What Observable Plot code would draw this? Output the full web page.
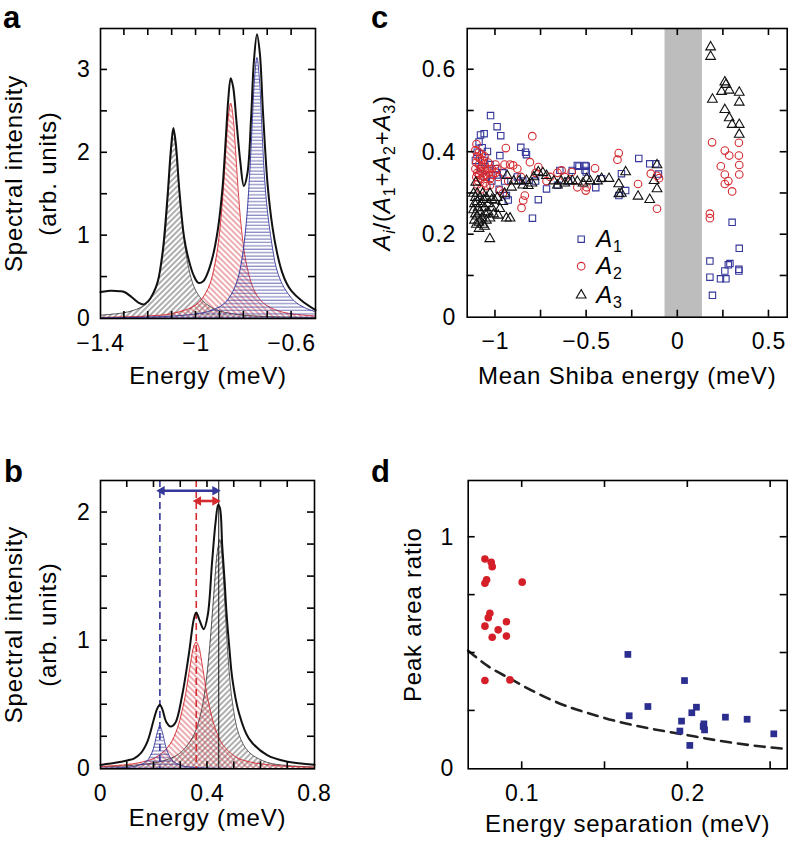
<!DOCTYPE html>
<html><head><meta charset="utf-8">
<script src="https://cdn.jsdelivr.net/npm/d3@7"></script>
<script src="https://cdn.jsdelivr.net/npm/@observablehq/plot@0.6"></script>
<style>
body{margin:0;background:#fff;}
#root{position:relative;width:788px;height:844px;font-family:"Liberation Sans",Arial,sans-serif;overflow:hidden;}
#root svg text{letter-spacing:0.8px;}
.panel{position:absolute;}
.lab{position:absolute;font-weight:bold;font-size:31px;line-height:1;color:#000;}
</style></head><body>
<svg width="0" height="0" style="position:absolute"><defs>
<pattern id="hBlack" patternUnits="userSpaceOnUse" width="4" height="4" patternTransform="rotate(45)"><line x1="1" y1="0" x2="1" y2="4" stroke="#333" stroke-width="0.8"/></pattern>
<pattern id="hRed" patternUnits="userSpaceOnUse" width="4" height="4" patternTransform="rotate(-45)"><line x1="1" y1="0" x2="1" y2="4" stroke="#d0303a" stroke-width="0.8"/></pattern>
<pattern id="hBlue" patternUnits="userSpaceOnUse" width="4" height="3.4"><line x1="0" y1="1" x2="4" y2="1" stroke="#3a3c9c" stroke-width="0.8"/></pattern>
</defs></svg>
<div id="root">
  <div class="lab" style="left:3px;top:2px">a</div>
  <div class="lab" style="left:371px;top:2px">c</div>
  <div class="lab" style="left:4px;top:456px">b</div>
  <div class="lab" style="left:371px;top:456px">d</div>
</div>
<script>
// ---------- DATA ----------
// Panel a: total spectrum and three fitted components
const aTotalX = [-1.4,-1.36,-1.32,-1.3,-1.27,-1.24,-1.22,-1.2,-1.18,-1.16,-1.14,-1.12,-1.105,-1.095,-1.085,-1.07,-1.05,-1.03,-1.01,-0.99,-0.97,-0.95,-0.93,-0.91,-0.89,-0.875,-0.865,-0.855,-0.845,-0.83,-0.815,-0.8,-0.785,-0.77,-0.758,-0.745,-0.733,-0.72,-0.7,-0.68,-0.66,-0.64,-0.62,-0.6,-0.56,-0.5];
const aTotalY = [0.32,0.335,0.33,0.32,0.26,0.19,0.17,0.21,0.3,0.45,0.8,1.45,2.05,2.3,2.12,1.55,0.98,0.7,0.52,0.43,0.45,0.56,0.75,1.05,1.55,2.2,2.65,2.9,2.8,2.35,1.9,1.6,1.75,2.4,3.1,3.43,3.2,2.5,1.6,1.1,0.78,0.56,0.42,0.33,0.22,0.1];
const aBlackX = [-1.4,-1.3,-1.25,-1.22,-1.2,-1.17,-1.15,-1.13,-1.115,-1.105,-1.095,-1.085,-1.075,-1.06,-1.04,-1.02,-1.0,-0.97,-0.95,-0.9,-0.8,-0.7,-0.6,-0.5];
const aBlackY = [0.04,0.07,0.11,0.15,0.2,0.35,0.58,1.0,1.6,1.98,2.25,2.05,1.7,1.2,0.75,0.48,0.33,0.21,0.16,0.09,0.04,0.023,0.015,0.01];
const aRedX = [-1.4,-1.2,-1.1,-1.0,-0.95,-0.92,-0.9,-0.885,-0.875,-0.865,-0.855,-0.845,-0.835,-0.825,-0.81,-0.79,-0.76,-0.73,-0.7,-0.65,-0.6,-0.5];
const aRedY = [0.013,0.031,0.06,0.165,0.36,0.67,1.08,1.6,2.04,2.43,2.6,2.43,2.04,1.6,1.08,0.67,0.36,0.22,0.15,0.087,0.056,0.03];
const aBlueX = [-1.4,-1.2,-1.1,-1.0,-0.945,-0.905,-0.875,-0.845,-0.825,-0.81,-0.795,-0.785,-0.775,-0.765,-0.755,-0.745,-0.735,-0.725,-0.715,-0.705,-0.695,-0.68,-0.665,-0.645,-0.615,-0.585,-0.545,-0.5];
const aBlueY = [0.008,0.017,0.029,0.055,0.088,0.136,0.2,0.33,0.48,0.68,1.0,1.32,1.77,2.34,2.9,3.15,2.9,2.34,1.77,1.4,1.15,0.85,0.62,0.45,0.3,0.2,0.13,0.08];

// Panel b
const bTotalX = [0,0.05,0.1,0.125,0.15,0.175,0.2,0.212,0.222,0.232,0.245,0.262,0.28,0.305,0.33,0.349,0.358,0.37,0.386,0.401,0.417,0.43,0.44,0.447,0.455,0.4635,0.471,0.481,0.493,0.517,0.555,0.623,0.7,0.8];
const bTotalY = [0.03,0.045,0.065,0.08,0.12,0.21,0.39,0.47,0.5,0.46,0.37,0.33,0.36,0.57,0.89,1.17,1.22,1.16,1.09,1.2,1.61,1.92,2.06,2.03,1.74,1.48,1.22,0.96,0.7,0.44,0.236,0.106,0.055,0.032];
const bBlueX = [0,0.1,0.142,0.172,0.192,0.202,0.212,0.222,0.232,0.242,0.252,0.272,0.302,0.35,0.45,0.8];
const bBlueY = [0.004,0.012,0.026,0.058,0.124,0.19,0.28,0.335,0.28,0.19,0.124,0.058,0.026,0.011,0.004,0.001];
const bRedX = [0,0.1,0.158,0.208,0.258,0.288,0.308,0.318,0.328,0.338,0.348,0.358,0.368,0.378,0.388,0.398,0.408,0.428,0.458,0.508,0.558,0.658,0.8];
const bRedY = [0.018,0.033,0.054,0.09,0.185,0.32,0.48,0.58,0.71,0.84,0.95,0.99,0.95,0.84,0.71,0.58,0.48,0.32,0.185,0.09,0.054,0.025,0.012];
const bBlackX = [0,0.1,0.2,0.246,0.296,0.346,0.376,0.396,0.406,0.416,0.426,0.436,0.446,0.456,0.4635,0.471,0.481,0.493,0.517,0.555,0.623,0.7,0.8];
const bBlackY = [0.014,0.024,0.046,0.069,0.12,0.25,0.44,0.7,0.9,1.15,1.43,1.68,1.79,1.61,1.34,1.06,0.76,0.52,0.27,0.13,0.05,0.025,0.013];
const bPeakBlue = 0.222, bPeakRed = 0.358, bPeakBlack = 0.442;
const bArrowStart = [0.222, 0.358];
const bArrowEnd = [0.436, 0.436];
const bArrowY = [2.17, 2.09];

// Panel c: A1 (squares), A2 (circles), A3 (triangles)
const cA1 = [[-1.027,0.489],[-0.991,0.462],[-0.971,0.44],[-1.082,0.442],[-1.062,0.445],[-1.073,0.411],[-1.044,0.402],[-0.976,0.392],[-1.09,0.425],[-1.1,0.4],[-1.06,0.38],[-1.03,0.37],[-1.0,0.36],[-0.99,0.345],[-1.05,0.34],[-1.02,0.33],[-0.96,0.35],[-0.95,0.33],[-1.08,0.36],[-1.11,0.38],[-0.98,0.31],[-0.93,0.284],[-0.94,0.295],
  [-0.861,0.412],[-0.835,0.4],[-0.83,0.394],[-0.72,0.311],[-0.765,0.285],[-0.797,0.24],[-0.647,0.356],[-0.579,0.356],[-0.542,0.366],[-0.502,0.366],[-0.502,0.352],[-0.45,0.314],[-0.418,0.336],[-0.551,0.368],[-0.509,0.368],[-0.509,0.356],[-0.309,0.348],[-0.286,0.307],[-0.323,0.295],[-0.214,0.385],[-0.154,0.372],[-0.121,0.372],[-0.106,0.347],[-0.88,0.34],[-0.85,0.33],[-0.78,0.33],[-0.6,0.33],[-0.66,0.32],
  [0.298,0.23],[0.337,0.167],[0.176,0.136],[0.277,0.127],[0.258,0.112],[0.335,0.116],[0.335,0.112],[0.176,0.097],[0.234,0.093],[0.264,0.093],[0.19,0.053],[0.286,0.13]];
const cA2 = [[-1.104,0.42],[-1.11,0.405],[-1.1,0.39],[-1.105,0.375],[-1.11,0.36],[-1.1,0.35],[-1.105,0.34],[-1.095,0.33],[-1.09,0.4],[-1.085,0.385],[-1.09,0.37],[-1.085,0.355],[-1.09,0.345],[-1.08,0.335],[-1.075,0.395],[-1.07,0.38],[-1.075,0.365],[-1.07,0.35],[-1.065,0.34],[-1.06,0.37],[-1.055,0.355],[-1.06,0.39],[-1.05,0.345],[-1.045,0.36],[-1.04,0.375],[-1.035,0.35],[-1.03,0.335],[-1.02,0.36],[-1.015,0.345],[-1.0,0.37],[-1.0,0.35],[-0.99,0.36],[-0.985,0.34],[-1.06,0.325],[-1.05,0.318],[-1.03,0.32],[-1.1,0.322],[-1.08,0.31],
  [-0.943,0.41],[-0.798,0.439],[-0.903,0.368],[-0.92,0.37],[-0.811,0.376],[-0.765,0.364],[-0.78,0.35],[-0.839,0.295],[-0.848,0.283],[-0.857,0.265],[-0.976,0.307],[-0.96,0.3],[-0.637,0.356],[-0.582,0.352],[-0.324,0.398],[-0.331,0.382],[-0.454,0.361],[-0.218,0.323],[-0.148,0.348],[-0.114,0.343],[-0.103,0.337],[-0.114,0.263],[-0.505,0.307],[-0.551,0.315],[-0.7,0.34],[-0.72,0.33],[-0.66,0.35],[-0.62,0.34],[-0.5,0.315],[-0.86,0.34],[-0.88,0.36],[-0.95,0.37],[-0.93,0.33],
  [0.188,0.424],[0.335,0.423],[0.258,0.404],[0.282,0.392],[0.335,0.392],[0.337,0.369],[0.236,0.366],[0.258,0.346],[0.337,0.346],[0.277,0.33],[0.258,0.323],[0.298,0.305],[0.176,0.251],[0.176,0.24]];
const cA3 = [[-1.12,0.3],[-1.11,0.29],[-1.115,0.275],[-1.12,0.26],[-1.11,0.25],[-1.115,0.235],[-1.105,0.225],[-1.1,0.3],[-1.1,0.28],[-1.095,0.265],[-1.1,0.245],[-1.09,0.23],[-1.085,0.29],[-1.08,0.275],[-1.085,0.255],[-1.075,0.24],[-1.07,0.225],[-1.07,0.3],[-1.065,0.285],[-1.06,0.265],[-1.055,0.25],[-1.05,0.235],[-1.05,0.29],[-1.04,0.275],[-1.04,0.255],[-1.03,0.24],[-1.03,0.3],[-1.02,0.285],[-1.02,0.265],[-1.01,0.25],[-1.005,0.283],[-0.99,0.29],[-0.985,0.247],[-0.976,0.263],[-1.031,0.19],[-1.108,0.327],[-1.09,0.215],[-1.06,0.22],
  [-0.936,0.343],[-0.83,0.331],[-0.765,0.352],[-0.72,0.343],[-0.912,0.315],[-0.9,0.33],[-0.82,0.319],[-0.85,0.32],[-0.87,0.33],[-0.8,0.325],[-0.79,0.34],[-0.74,0.35],[-0.95,0.3],[-0.96,0.28],[-0.94,0.24],[-0.92,0.24],[-0.68,0.33],[-0.66,0.32],[-0.64,0.33],[-0.62,0.325],[-0.6,0.33],[-0.579,0.331],[-0.551,0.329],[-0.5,0.336],[-0.52,0.325],[-0.48,0.33],[-0.418,0.336],[-0.377,0.336],[-0.44,0.33],[-0.324,0.323],[-0.323,0.299],[-0.286,0.352],[-0.218,0.293],[-0.154,0.285],[-0.13,0.331],[-0.114,0.311],[-0.114,0.369],[-0.31,0.3],
  [0.18,0.655],[0.18,0.632],[0.258,0.57],[0.264,0.564],[0.24,0.547],[0.282,0.55],[0.337,0.545],[0.19,0.528],[0.337,0.521],[0.258,0.503],[0.282,0.483],[0.298,0.467],[0.337,0.467],[0.337,0.443]];
const cBand = [-0.07, 0.135];
const cSeries = ["A1", "A2", "A3"];

// Panel d
const dRedX = [0.0775,0.0813,0.0819,0.0775,0.0785,0.1,0.0805,0.0795,0.0775,0.0855,0.0819,0.0905,0.0905,0.0775,0.0926];
const dRedY = [0.906,0.892,0.873,0.801,0.816,0.806,0.672,0.652,0.616,0.6,0.568,0.635,0.573,0.381,0.384];
const dBlueX = [0.1638,0.1646,0.1759,0.198,0.1962,0.1952,0.2012,0.2024,0.2052,0.2097,0.2101,0.2093,0.2227,0.2358,0.2519];
const dBlueY = [0.494,0.229,0.269,0.381,0.206,0.163,0.101,0.242,0.266,0.194,0.168,0.183,0.223,0.214,0.151];
const dFitX = [0.0674,0.08,0.09,0.1,0.12,0.14,0.16,0.18,0.2,0.22,0.24,0.26];
const dFitY = [0.51,0.44,0.4,0.36,0.29,0.24,0.2,0.17,0.145,0.12,0.1,0.085];

// Tick values
const aXTicks = [-1.3,-1.2,-1.1,-1,-0.9,-0.8,-0.7,-0.6], aXLabels = [-1.4,-1,-0.6];
const aYTicks = [0.5,1,1.5,2,2.5,3], aYLabels = [0,1,2,3];
const bXTicks = [0.1,0.2,0.3,0.4,0.5,0.6,0.7], bXLabels = [0,0.4,0.8];
const bYTicks = [0.25,0.5,0.75,1,1.25,1.5,1.75,2], bYLabels = [0,1,2];
const cXTicks = [-1,-0.75,-0.5,-0.25,0,0.25,0.5], cXLabels = [-1,-0.5,0,0.5];
const cYTicks = [0.1,0.2,0.3,0.4,0.5,0.6], cYLabels = [0,0.2,0.4,0.6];
const dXTicks = [0.1,0.15,0.2,0.25], dXLabels = [0.1,0.2];
const dYTicks = [0.25,0.5,0.75,1], dYLabels = [0,1];

// ---------- HELPERS ----------
const NS = "http://www.w3.org/2000/svg";
const zip = (X, Y) => X.map((x, i) => ({x, y: Y[i]}));
const pts = (arr) => arr.map(([x, y]) => ({x, y}));
const fmt = d => d < 0 ? "\u2212" + Math.abs(d) : String(d);
const TICK = 23, LAB = 24;
const BLUE = "#35379a", RED = "#d42a30";
const TL = 7; // tick length (px)

// inward ticks on all four sides, positioned with the plot's own scales
function addTicks(svg, xt, yt, dims) {
  const sx = svg.scale("x"), sy = svg.scale("y");
  const L = dims.marginLeft, R = dims.width - dims.marginRight, T = dims.marginTop, B = dims.height - dims.marginBottom;
  const g = document.createElementNS(NS, "g");
  g.setAttribute("stroke", "#000");
  g.setAttribute("stroke-width", "1.6");
  g.setAttribute("aria-label", "ticks");
  const line = (x1, y1, x2, y2) => {
    const l = document.createElementNS(NS, "line");
    l.setAttribute("x1", x1); l.setAttribute("y1", y1); l.setAttribute("x2", x2); l.setAttribute("y2", y2);
    g.appendChild(l);
  };
  for (const v of xt) { const p = sx.apply(v); line(p, B, p, B - TL); line(p, T, p, T + TL); }
  for (const v of yt) { const p = sy.apply(v); line(L, p, L + TL, p); line(R, p, R - TL, p); }
  svg.appendChild(g);
}
function tickLabels(xl, yl, dyX, dxY) {
  return [
    Plot.text(xl, {x: d => d, text: fmt, frameAnchor: "bottom", dy: dyX, fontSize: TICK, textAnchor: "middle", lineAnchor: "middle"}),
    Plot.text(yl, {y: d => d, text: fmt, frameAnchor: "left", dx: dxY, fontSize: TICK, textAnchor: "end", lineAnchor: "middle"})
  ];
}
const frame = () => Plot.frame({stroke: "#000", strokeWidth: 1.6});
const xTitle = (t, dy) => Plot.text([t], {frameAnchor: "bottom", dy, fontSize: LAB, text: d => d, textAnchor: "middle", lineAnchor: "middle"});
const yTitle = (t, dx, dy = 0) => Plot.text([t], {frameAnchor: "left", dx, dy, rotate: -90, fontSize: LAB, text: d => d, textAnchor: "middle", lineAnchor: "middle"});

function rich(svg, key, parts) {
  for (const t of svg.querySelectorAll("text")) {
    if (t.textContent === key) {
      t.textContent = "";
      let off = 0;
      for (const [s, st] of parts) {
        const ts = document.createElementNS(NS, "tspan");
        ts.textContent = s;
        const want = st.includes("s") ? 5 : 0;
        if (want !== off) { ts.setAttribute("dy", want - off); off = want; }
        if (st.includes("i")) ts.setAttribute("font-style", "italic");
        if (st.includes("s")) ts.setAttribute("font-size", "16");
        t.appendChild(ts);
      }
    }
  }
}
function place(svg, left, top) {
  const d = document.createElement("div");
  d.className = "panel";
  d.style.left = left + "px"; d.style.top = top + "px";
  d.appendChild(svg);
  document.getElementById("root").prepend(d);
}
const baseStyle = {fontFamily: "Liberation Sans, Arial, sans-serif", fontSize: "22px", background: "transparent", overflow: "visible", color: "#000"};

// ---------- PANEL A ----------
const aDims = {width: 360, height: 420, marginLeft: 100, marginTop: 28, marginRight: 45, marginBottom: 102};
const aTotal = zip(aTotalX, aTotalY), aBlack = zip(aBlackX, aBlackY), aRed = zip(aRedX, aRedY), aBlue = zip(aBlueX, aBlueY);
const pa = Plot.plot({
  ...aDims, style: baseStyle,
  x: {domain: [-1.4, -0.5], axis: null}, y: {domain: [0, 3.5], axis: null},
  marks: [
    Plot.areaY(aBlack, {x: "x", y: "y", fill: "url(#hBlack)", curve: "catmull-rom"}),
    Plot.lineY(aBlack, {x: "x", y: "y", stroke: "#333", strokeWidth: 0.8, curve: "catmull-rom"}),
    Plot.areaY(aRed, {x: "x", y: "y", fill: "url(#hRed)", curve: "catmull-rom"}),
    Plot.lineY(aRed, {x: "x", y: "y", stroke: RED, strokeWidth: 0.9, curve: "catmull-rom"}),
    Plot.areaY(aBlue, {x: "x", y: "y", fill: "url(#hBlue)", curve: "catmull-rom"}),
    Plot.lineY(aBlue, {x: "x", y: "y", stroke: BLUE, strokeWidth: 0.9, curve: "catmull-rom"}),
    Plot.lineY(aTotal, {x: "x", y: "y", stroke: "#111", strokeWidth: 2, curve: "catmull-rom"}),
    frame(),
    ...tickLabels(aXLabels, aYLabels, 25, -10),
    xTitle("Energy (meV)", 58),
    yTitle("Spectral intensity", -86),
    yTitle("(arb. units)", -52)
  ]
});
addTicks(pa, aXTicks, aYTicks, aDims);
place(pa, 0, 0);

// ---------- PANEL B ----------
const bDims = {width: 360, height: 424, marginLeft: 100, marginTop: 60, marginRight: 46, marginBottom: 75.7};
const bTotal = zip(bTotalX, bTotalY), bBlue = zip(bBlueX, bBlueY), bRed = zip(bRedX, bRedY), bBlack = zip(bBlackX, bBlackY);
const bArrows = bArrowStart.map((s, i) => ({s, e: bArrowEnd[i], y: bArrowY[i], c: i === 0 ? BLUE : RED}));
const pb = Plot.plot({
  ...bDims, style: baseStyle,
  x: {domain: [0, 0.8], axis: null}, y: {domain: [0, 2.25], axis: null},
  marks: [
    Plot.areaY(bBlack, {x: "x", y: "y", fill: "url(#hBlack)", curve: "catmull-rom"}),
    Plot.lineY(bBlack, {x: "x", y: "y", stroke: "#333", strokeWidth: 0.8, curve: "catmull-rom"}),
    Plot.areaY(bRed, {x: "x", y: "y", fill: "url(#hRed)", curve: "catmull-rom"}),
    Plot.lineY(bRed, {x: "x", y: "y", stroke: RED, strokeWidth: 0.9, curve: "catmull-rom"}),
    Plot.areaY(bBlue, {x: "x", y: "y", fill: "url(#hBlue)", curve: "catmull-rom"}),
    Plot.lineY(bBlue, {x: "x", y: "y", stroke: BLUE, strokeWidth: 0.9, curve: "catmull-rom"}),
    Plot.ruleX([bPeakBlue], {stroke: BLUE, strokeWidth: 1.6, strokeDasharray: "7,4"}),
    Plot.ruleX([bPeakRed], {stroke: RED, strokeWidth: 1.6, strokeDasharray: "7,4"}),
    Plot.ruleX([bPeakBlack], {stroke: "#111", strokeWidth: 1}),
    Plot.lineY(bTotal, {x: "x", y: "y", stroke: "#111", strokeWidth: 2, curve: "catmull-rom"}),
    // double-headed arrows: shaft + filled triangular heads
    Plot.link(bArrows, {x1: "s", x2: "e", y1: "y", y2: "y", stroke: "c", strokeWidth: 2.6}),
    Plot.dot(bArrows, {x: "e", y: "y", symbol: "triangle", rotate: 90, r: 3.6, fill: "c", dx: -2}),
    Plot.dot(bArrows, {x: "s", y: "y", symbol: "triangle", rotate: -90, r: 3.6, fill: "c", dx: 2}),
    frame(),
    ...tickLabels(bXLabels, bYLabels, 25, -10),
    xTitle("Energy (meV)", 50),
    yTitle("Spectral intensity", -86),
    yTitle("(arb. units)", -52)
  ]
});
addTicks(pb, bXTicks, bYTicks, bDims);
place(pb, 0, 420);

// ---------- PANEL C ----------
const cDims = {width: 428, height: 420, marginLeft: 106.7, marginTop: 28, marginRight: 1.3, marginBottom: 103.3};
const legText = (i, dy) => Plot.text([cSeries[i]], {frameAnchor: "bottom-left", dx: 129, dy, textAnchor: "start", lineAnchor: "middle", fontSize: LAB, text: d => "LEG" + d});
const pc = Plot.plot({
  ...cDims, style: baseStyle,
  x: {domain: [-1.155, 0.6], axis: null}, y: {domain: [0, 0.7], axis: null},
  marks: [
    Plot.rect([cBand], {x1: d => d[0], x2: d => d[1], fill: "#bdbdbd"}),
    Plot.dot(pts(cA1), {x: "x", y: "y", symbol: "square", r: 3.6, stroke: BLUE, strokeWidth: 1.1}),
    Plot.dot(pts(cA2), {x: "x", y: "y", symbol: "circle", r: 3.8, stroke: RED, strokeWidth: 1.1}),
    Plot.dot(pts(cA3), {x: "x", y: "y", symbol: "triangle", r: 3.6, stroke: "#111", strokeWidth: 1.1}),
    // legend
    Plot.dot([cSeries[0]], {frameAnchor: "bottom-left", dx: 114, dy: -78, symbol: "square", r: 3.6, stroke: BLUE, strokeWidth: 1.1}),
    Plot.dot([cSeries[1]], {frameAnchor: "bottom-left", dx: 114, dy: -51, symbol: "circle", r: 3.8, stroke: RED, strokeWidth: 1.1}),
    Plot.dot([cSeries[2]], {frameAnchor: "bottom-left", dx: 114, dy: -22, symbol: "triangle", r: 3.6, stroke: "#111", strokeWidth: 1.1}),
    legText(0, -78), legText(1, -51), legText(2, -22),
    frame(),
    ...tickLabels(cXLabels, cYLabels, 24, -11),
    xTitle("Mean Shiba energy (meV)", 59),
    yTitle("CYLABEL", -85)
  ]
});
rich(pc, "CYLABEL", [["A","i"],["i","is"],["/(",""],["A","i"],["1","s"],["+",""],["A","i"],["2","s"],["+",""],["A","i"],["3","s"],[")",""]]);
for (const s of cSeries) rich(pc, "LEG" + s, [["A","i"],[s.slice(1),"s"]]);
addTicks(pc, cXTicks, cYTicks, cDims);
place(pc, 360, 0);

// ---------- PANEL D ----------
const dDims = {width: 428, height: 424, marginLeft: 107.7, marginTop: 60, marginRight: 1.3, marginBottom: 75.7};
const pd = Plot.plot({
  ...dDims, style: baseStyle,
  x: {domain: [0.0674, 0.26], axis: null}, y: {domain: [0, 1.245], axis: null},
  marks: [
    Plot.line(zip(dFitX, dFitY), {x: "x", y: "y", stroke: "#222", strokeWidth: 2.6, strokeDasharray: "10,7", curve: "natural"}),
    Plot.dot(zip(dRedX, dRedY), {x: "x", y: "y", symbol: "circle", r: 3.8, fill: "#d51f28"}),
    Plot.dot(zip(dBlueX, dBlueY), {x: "x", y: "y", symbol: "square", r: 3.8, fill: "#2b2e8f"}),
    frame(),
    ...tickLabels(dXLabels, dYLabels, 25, -14),
    xTitle("Energy separation (meV)", 56),
    yTitle("Peak area ratio", -55, -10)
  ]
});
addTicks(pd, dXTicks, dYTicks, dDims);
place(pd, 360, 420);
</script>
</body></html>
